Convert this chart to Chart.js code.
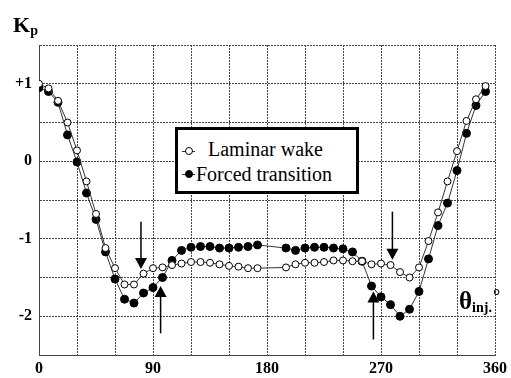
<!DOCTYPE html>
<html>
<head>
<meta charset="utf-8">
<script src="https://cdn.jsdelivr.net/npm/chart.js@4.4.1/dist/chart.umd.min.js"></script>
<style>
  body { margin: 0; background: #fff; }
  #wrap { position: relative; width: 511px; height: 378px; font-family: "Liberation Serif", "Times New Roman", "DejaVu Serif", serif; }
  #wrap canvas { position: absolute; left: 0; top: 0; }
  .lbl { position: absolute; white-space: nowrap; color: #000; line-height: 1; }
  #legend { position: absolute; left: 175px; top: 127px; width: 178px; height: 61px; border: 3px solid #000; background: #fff; }
  #legend .row { position: absolute; font-size: 20px; line-height: 20px; white-space: nowrap; }
  #legend .seg { position: absolute; height: 1px; background: #333; width: 13px; }
  #legend .dot { position: absolute; width: 6px; height: 6px; border-radius: 50%; border: 1px solid #000; }
</style>
</head>
<body>
<div id="wrap">
  <canvas id="grafica" width="511" height="378"></canvas>
  <div class="lbl" style="left:13px; top:14px; font-weight:bold; font-size:22px;">K<span style="font-size:14px; position:relative; top:3px;">p</span></div>
  <div class="lbl" style="left:459px; top:288px; font-weight:bold; font-size:25px;">θ<span style="font-size:14px; position:relative; top:3px;">inj.</span><span style="font-size:18px; position:relative; top:-7px; margin-left:1px;">°</span></div>
  <div id="legend">
    <div class="seg" style="left:4px; top:21px;"></div>
    <div class="dot" style="left:7px; top:17px; background:#fff;"></div>
    <div class="row" style="left:30px; top:9px;">Laminar wake</div>
    <div class="seg" style="left:4px; top:44px;"></div>
    <div class="dot" style="left:7px; top:40px; background:#000;"></div>
    <div class="row" style="left:18px; top:34px;">Forced transition</div>
  </div>
</div>
<script>
// Ángulos de inyección (grados) y coeficientes Kp
const angulos = [0, 7.5, 15, 22.5, 30, 37.5, 45, 52.5, 60, 67.5, 75, 82.5, 90, 97.5, 105, 112.5, 120, 127.5, 135, 142.5, 150, 157.5, 165, 172.5,
                 195, 202.5, 210, 217.5, 225, 232.5, 240, 247.5, 255, 262.5, 270, 277.5, 285, 292.5, 300, 307.5, 315, 322.5, 330, 337.5, 345, 352.5];
const laminar = [1.00, 0.94, 0.78, 0.50, 0.14, -0.26, -0.68, -1.12, -1.38, -1.59, -1.59, -1.45, -1.38, -1.37, -1.34, -1.32, -1.30, -1.30, -1.31, -1.33, -1.35, -1.36, -1.38, -1.38,
                 -1.37, -1.33, -1.31, -1.31, -1.30, -1.28, -1.28, -1.29, -1.29, -1.33, -1.32, -1.34, -1.43, -1.50, -1.37, -1.03, -0.66, -0.26, 0.13, 0.52, 0.80, 0.97];
const forzada = [0.95, 0.90, 0.76, 0.34, -0.01, -0.41, -0.75, -1.17, -1.52, -1.78, -1.83, -1.70, -1.63, -1.50, -1.28, -1.15, -1.11, -1.10, -1.10, -1.12, -1.12, -1.11, -1.10, -1.08,
                 -1.12, -1.15, -1.12, -1.11, -1.11, -1.12, -1.13, -1.17, -1.29, -1.61, -1.75, -1.85, -2.00, -1.91, -1.68, -1.26, -0.83, -0.54, -0.12, 0.36, 0.72, 0.90];

// Flechas: ángulo, valor de la cola y valor de la punta
const flechaAngulo = [80.5, 96, 264, 279];
const flechaCola = [-0.78, -2.22, -2.30, -0.65];
const flechaPunta = [-1.39, -1.61, -1.68, -1.27];

const etiquetasX = [0, 90, 180, 270, 360];
const etiquetasY = { "1": "+1", "0": "0", "-1": "-1", "-2": "-2" };

const puntos = (ys) => angulos.map((a, i) => ({ x: a, y: ys[i] }));

const flechas = {
    id: "flechas",
    afterDatasetsDraw(chart) {
        const c = chart.ctx;
        const sx = chart.scales.x, sy = chart.scales.y;
        c.save();
        c.strokeStyle = "#000";
        c.fillStyle = "#000";
        c.lineWidth = 1.5;
        flechaAngulo.forEach((a, i) => {
            const x = sx.getPixelForValue(a);
            const y0 = sy.getPixelForValue(flechaCola[i]);
            const y1 = sy.getPixelForValue(flechaPunta[i]);
            const dir = y1 > y0 ? 1 : -1;
            c.beginPath();
            c.moveTo(x, y0);
            c.lineTo(x, y1 - dir * 8);
            c.stroke();
            c.beginPath();
            c.moveTo(x, y1);
            c.lineTo(x - 6, y1 - dir * 11);
            c.lineTo(x + 6, y1 - dir * 11);
            c.closePath();
            c.fill();
        });
        c.restore();
    }
};

const fuenteTicks = { family: "Liberation Serif", size: 16, weight: "bold" };

new Chart(document.getElementById("grafica").getContext("2d"), {
    type: "scatter",
    data: {
        datasets: [{
            label: "Laminar wake",
            data: puntos(laminar),
            showLine: true,
            borderColor: "#333",
            borderWidth: 1,
            pointRadius: 3.5,
            pointBackgroundColor: "#fff",
            pointBorderColor: "#000",
            pointBorderWidth: 1,
            tension: 0
        }, {
            label: "Forced transition",
            data: puntos(forzada),
            showLine: true,
            borderColor: "#333",
            borderWidth: 1,
            pointRadius: 4,
            pointBackgroundColor: "#000",
            pointBorderColor: "#000",
            pointBorderWidth: 1,
            tension: 0
        }]
    },
    options: {
        responsive: false,
        animation: false,
        devicePixelRatio: 1,
        layout: { padding: { top: 45, right: 15, left: 0, bottom: 0 } },
        plugins: { legend: { display: false }, tooltip: { enabled: false } },
        scales: {
            x: {
                type: "linear",
                min: 0,
                max: 360,
                afterFit: (s) => { s.height = 23; },
                grid: { color: "#444", lineWidth: 1, drawTicks: false },
                border: { color: "#444", dash: [2, 1] },
                ticks: {
                    stepSize: 30,
                    autoSkip: false,
                    maxRotation: 0,
                    padding: 4,
                    color: "#000",
                    font: fuenteTicks,
                    callback: (v) => etiquetasX.includes(v) ? String(v) : ""
                }
            },
            y: {
                min: -2.5,
                max: 1.5,
                afterFit: (s) => { s.width = 39; },
                grid: { color: "#444", lineWidth: 1, drawTicks: false },
                border: { color: "#444", dash: [2, 1] },
                ticks: {
                    stepSize: 0.5,
                    autoSkip: false,
                    padding: 7,
                    color: "#000",
                    font: fuenteTicks,
                    callback: (v) => etiquetasY[String(v)] ?? ""
                }
            }
        }
    },
    plugins: [flechas]
});
</script>
</body>
</html>
